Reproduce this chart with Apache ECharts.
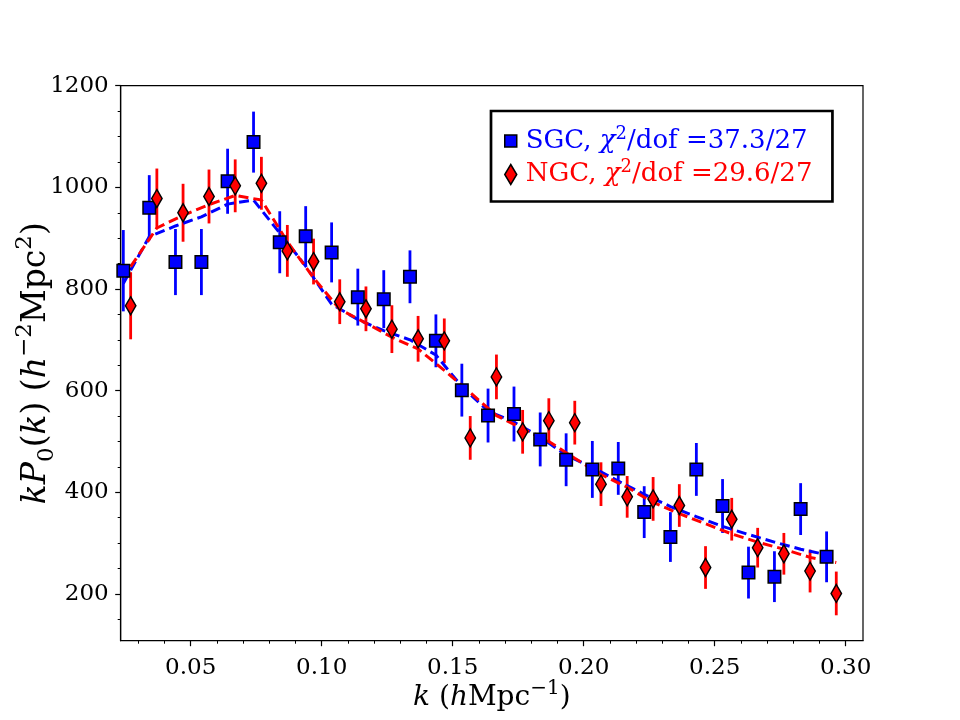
<!DOCTYPE html>
<html>
<head>
<meta charset="utf-8">
<script src="https://cdn.jsdelivr.net/npm/echarts@6/dist/echarts.min.js"></script>
<style>
  html, body { margin: 0; padding: 0; background: #fff; }
  #chart { width: 960px; height: 720px; }
</style>
</head>
<body>
<div id="chart"></div>
<script>
// SGC 数据 (k, kP0, 误差, 模型)
const kSGC = [0.0243, 0.0342, 0.0442, 0.0541, 0.0641, 0.0740, 0.0840, 0.0939, 0.1038, 0.1138,
  0.1237, 0.1337, 0.1436, 0.1535, 0.1635, 0.1734, 0.1834, 0.1933, 0.2033, 0.2132,
  0.2231, 0.2331, 0.2430, 0.2530, 0.2629, 0.2728, 0.2828, 0.2927];
const pSGC = [836, 960, 853, 853, 1012, 1089, 892, 904, 872, 784,
  780, 824, 698, 601, 551, 554, 504, 464, 445, 447,
  361, 312, 445, 373, 242, 234, 367, 273];
const errSGC = [80, 64, 65, 65, 64, 60, 61, 59, 59, 56,
  57, 52, 52, 52, 53, 54, 53, 52, 56, 52,
  51, 49, 52, 53, 51, 50, 51, 50];
const modelSGC = [811, 903, 924, 942, 967, 975, 910, 845, 770, 740,
  718, 700, 670, 608, 560, 538, 509, 473, 449, 422,
  396, 372, 352, 333, 317, 302, 288, 277];

// NGC 数据
const kNGC = [0.0271, 0.0371, 0.0471, 0.0570, 0.0670, 0.0770, 0.0869, 0.0969, 0.1069, 0.1169,
  0.1268, 0.1368, 0.1468, 0.1567, 0.1667, 0.1767, 0.1867, 0.1966, 0.2066, 0.2166,
  0.2265, 0.2365, 0.2465, 0.2565, 0.2664, 0.2764, 0.2864, 0.2964];
const pNGC = [767, 978, 950, 982, 1003, 1008, 875, 854, 775, 761,
  721, 702, 698, 507, 627, 519, 541, 537, 416, 391,
  387, 374, 252, 347, 291, 279, 245, 201];
const errNGC = [66, 59, 57, 53, 52, 52, 51, 45, 44, 44,
  47, 45, 44, 43, 44, 43, 44, 43, 43, 41,
  43, 42, 42, 42, 39, 41, 42, 43];
const modelNGC = [844, 920, 945, 966, 984, 975, 893, 822, 760, 733,
  705, 682, 640, 596, 551, 525, 500, 467, 435, 410,
  380, 358, 338, 318, 302, 288, 272, 262];

// 刻度
const xMajorTicks = [0.05, 0.10, 0.15, 0.20, 0.25, 0.30];
const xMinorTicks = [0.03, 0.04, 0.06, 0.07, 0.08, 0.09, 0.11, 0.12, 0.13, 0.14, 0.16, 0.17,
  0.18, 0.19, 0.21, 0.22, 0.23, 0.24, 0.26, 0.27, 0.28, 0.29];
const yMajorTicks = [200, 400, 600, 800, 1000, 1200];
const yMinorTicks = [150, 250, 300, 350, 450, 500, 550, 650, 700, 750, 850, 900, 950, 1050, 1100, 1150];

const xMin = 0.0233, xMax = 0.3066;
const yMin = 108, yMax = 1200;

const FONT = '"DejaVu Serif", "Liberation Serif", serif';
const BLUE = '#0000ff';
const RED = '#ff0000';

function zip3(a, b, c) {
  return a.map((v, i) => [v, b[i], c[i]]);
}
function zip2(a, b) {
  return a.map((v, i) => [v, b[i]]);
}

// 误差棒
function errRenderItem(params, api) {
  const k = api.value(0);
  const v = api.value(1);
  const e = api.value(2);
  const top = api.coord([k, v + e]);
  const bot = api.coord([k, v - e]);
  return {
    type: 'line',
    shape: {x1: top[0], y1: top[1], x2: bot[0], y2: bot[1]},
    style: {stroke: api.visual('color'), lineWidth: 2.8}
  };
}

// 坐标轴标题的富文本 (上下标)
function richText(size) {
  const small = Math.round(size * 0.7);
  const lh = Math.round(size * 1.35);
  return {
    r: {fontFamily: FONT, fontSize: size, color: '#000', lineHeight: lh, verticalAlign: 'middle'},
    i: {fontFamily: FONT, fontSize: size, color: '#000', fontStyle: 'italic', lineHeight: lh, verticalAlign: 'middle'},
    sup: {fontFamily: FONT, fontSize: small, color: '#000', lineHeight: small, verticalAlign: 'top'},
    sub: {fontFamily: FONT, fontSize: small, color: '#000', lineHeight: small, verticalAlign: 'bottom'}
  };
}

function legendRich(color, size) {
  return {
    t: {fontFamily: FONT, fontSize: size, color: color, lineHeight: 32, verticalAlign: 'middle'},
    ti: {fontFamily: FONT, fontSize: size, color: color, fontStyle: 'italic', lineHeight: 32, verticalAlign: 'middle'},
    ts: {fontFamily: FONT, fontSize: Math.round(size * 0.7), color: color, lineHeight: 18, verticalAlign: 'top'}
  };
}

const lb = legendRich(BLUE, 26);
const lr = legendRich(RED, 26);

let chart = echarts.init(document.getElementById('chart'), null, {renderer: 'canvas'});

chart.setOption({
  backgroundColor: '#fff',
  animation: false,
  grid: {
    left: 120.7,
    right: 97,
    top: 85.7,
    bottom: 79.3,
    containLabel: false,
    outerBoundsMode: 'none',
    show: true,
    borderColor: '#000',
    borderWidth: 1.2,
    backgroundColor: 'transparent'
  },
  legend: {
    orient: 'vertical',
    left: 491,
    top: 111,
    padding: [14, 20, 14, 13],
    itemGap: 4.5,
    itemWidth: 12,
    itemHeight: 20,
    borderColor: '#000',
    borderWidth: 2.7,
    borderRadius: 0,
    backgroundColor: '#fff',
    symbolKeepAspect: true,
    data: [
      {name: 'SGC', icon: 'path://M0,0L10,0L10,10L0,10Z',
        itemStyle: {color: BLUE, borderColor: '#000', borderWidth: 1.5}},
      {name: 'NGC', icon: 'path://M6,0L12,10L6,20L0,10Z',
        itemStyle: {color: RED, borderColor: '#000', borderWidth: 1.5}}
    ],
    formatter: function (name) {
      if (name === 'SGC') {
        return '{bt|SGC, }{bti|χ}{bts|2}{bt|/dof =37.3/27}';
      }
      return '{rt|NGC, }{rti|χ}{rts|2}{rt|/dof =29.6/27}';
    },
    textStyle: {
      padding: [0, 0, 0, 4],
      rich: {
        bt: lb.t, bti: lb.ti, bts: lb.ts,
        rt: lr.t, rti: lr.ti, rts: lr.ts
      }
    }
  },
  xAxis: [
    {
      type: 'value',
      min: xMin,
      max: xMax,
      position: 'bottom',
      name: '{i|k}{r| (}{i|h}{r|Mpc}{sup|−1}{r|)}',
      nameLocation: 'middle',
      nameGap: 38,
      nameMoveOverlap: false,
      nameTextStyle: {rich: richText(28)},
      axisLine: {show: true, onZero: false, lineStyle: {color: '#000', width: 1.2}},
      axisTick: {show: true, customValues: xMajorTicks, length: 5.5, lineStyle: {color: '#000', width: 1.2}},
      axisLabel: {
        customValues: xMajorTicks,
        margin: 16,
        fontFamily: FONT,
        fontSize: 23,
        color: '#000',
        formatter: v => v.toFixed(2)
      },
      splitLine: {show: false}
    },
    {
      // 次刻度
      type: 'value',
      min: xMin,
      max: xMax,
      position: 'bottom',
      axisLine: {show: false},
      axisTick: {show: true, customValues: xMinorTicks, length: 3, lineStyle: {color: '#000', width: 1}},
      axisLabel: {show: false},
      splitLine: {show: false}
    }
  ],
  yAxis: [
    {
      type: 'value',
      min: yMin,
      max: yMax,
      position: 'left',
      name: '{i|kP}{sub|0}{r|(}{i|k}{r|) (}{i|h}{sup|−2}{r|Mpc}{sup|2}{r|)}',
      nameLocation: 'middle',
      nameGap: 62,
      nameMoveOverlap: false,
      nameTextStyle: {rich: richText(33)},
      axisLine: {show: true, onZero: false, lineStyle: {color: '#000', width: 1.2}},
      axisTick: {show: true, customValues: yMajorTicks, length: 5.5, lineStyle: {color: '#000', width: 1.2}},
      axisLabel: {
        customValues: yMajorTicks,
        margin: 12,
        fontFamily: FONT,
        fontSize: 23,
        color: '#000',
        formatter: v => String(v)
      },
      splitLine: {show: false}
    },
    {
      type: 'value',
      min: yMin,
      max: yMax,
      position: 'left',
      axisLine: {show: false},
      axisTick: {show: true, customValues: yMinorTicks, length: 3, lineStyle: {color: '#000', width: 1}},
      axisLabel: {show: false},
      splitLine: {show: false}
    }
  ],
  series: [
    {
      name: 'SGC err',
      type: 'custom',
      renderItem: errRenderItem,
      data: zip3(kSGC, pSGC, errSGC),
      encode: {x: 0, y: 1},
      itemStyle: {color: BLUE},
      z: 2
    },
    {
      name: 'NGC err',
      type: 'custom',
      renderItem: errRenderItem,
      data: zip3(kNGC, pNGC, errNGC),
      encode: {x: 0, y: 1},
      itemStyle: {color: RED},
      z: 2
    },
    {
      name: 'SGC model',
      type: 'line',
      data: zip2(kSGC, modelSGC),
      showSymbol: false,
      symbol: 'none',
      lineStyle: {color: BLUE, width: 3, type: [10, 5]},
      z: 3
    },
    {
      name: 'NGC model',
      type: 'line',
      data: zip2(kNGC, modelNGC),
      showSymbol: false,
      symbol: 'none',
      lineStyle: {color: RED, width: 3, type: [10, 5]},
      z: 3
    },
    {
      name: 'SGC',
      type: 'scatter',
      data: zip2(kSGC, pSGC),
      symbol: 'rect',
      symbolSize: 12.5,
      itemStyle: {color: BLUE, borderColor: '#000', borderWidth: 1.5, opacity: 1},
      z: 4
    },
    {
      name: 'NGC',
      type: 'scatter',
      data: zip2(kNGC, pNGC),
      symbol: 'diamond',
      symbolSize: [10.5, 18],
      itemStyle: {color: RED, borderColor: '#000', borderWidth: 1.5, opacity: 1},
      z: 5
    }
  ]
});

window.onresize = () => {
  chart.resize();
};
</script>
</body>
</html>
